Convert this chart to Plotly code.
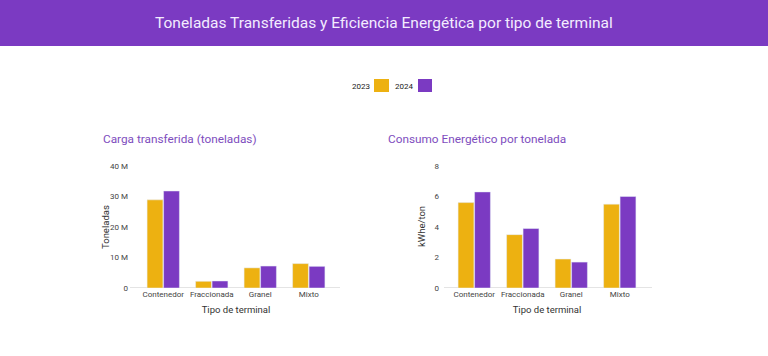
import plotly.graph_objects as go

categories = ["Contenedor", "Fraccionada", "Granel", "Mixto"]
years = ["2023", "2024"]
tons_2023 = [28.9e6, 2.2e6, 6.6e6, 8.0e6]
tons_2024 = [31.8e6, 2.3e6, 7.2e6, 7.1e6]
kwh_2023 = [5.6, 3.5, 1.9, 5.5]
kwh_2024 = [6.3, 3.9, 1.7, 6.0]
tons_ticks = [0, 10e6, 20e6, 30e6, 40e6]
tons_ticktext = ["0", "10 M", "20 M", "30 M", "40 M"]
kwh_ticks = [0, 2, 4, 6, 8]

YELLOW = "#EDB111"
PURPLE = "#7B3AC2"
TITLE_PURPLE = "#7E4DBE"
FONT = "Roboto, Arial, sans-serif"
W, H = 768, 356

def px(x):
    return x / W

def py(y):
    return 1 - y / H

fig = go.Figure()
fig.add_bar(x=categories, y=tons_2023, marker_color=YELLOW, name=years[0], xaxis="x", yaxis="y", showlegend=False)
fig.add_bar(x=categories, y=tons_2024, marker_color=PURPLE, name=years[1], xaxis="x", yaxis="y", showlegend=False)
fig.add_bar(x=categories, y=kwh_2023, marker_color=YELLOW, name=years[0], xaxis="x2", yaxis="y2", showlegend=False)
fig.add_bar(x=categories, y=kwh_2024, marker_color=PURPLE, name=years[1], xaxis="x2", yaxis="y2", showlegend=False)

axis_font = dict(family=FONT, size=8, color="#444444")
title_font = dict(family=FONT, size=9.5, color="#333333")

common_x = dict(showgrid=False, showline=False, tickangle=0, automargin=False,
                tickfont=axis_font, ticks="", title_font=title_font, title_standoff=8)
common_y = dict(showgrid=False, zeroline=False, showline=False, tickfont=axis_font, automargin=False,
                ticks="", ticklabelstandoff=10)

fig.update_layout(
    width=W, height=H, autosize=False,
    margin=dict(l=0, r=0, t=0, b=0, pad=0, autoexpand=False),
    paper_bgcolor="white", plot_bgcolor="white",
    barmode="group", bargap=0.32, bargroupgap=0.04,
    font=dict(family=FONT),
    xaxis=dict(domain=[px(139), px(333)], anchor="y", title_text="Tipo de terminal", **common_x),
    yaxis=dict(domain=[py(288), py(166)], anchor="x", range=[0, 40e6],
               tickvals=tons_ticks, ticktext=tons_ticktext, **common_y),
    xaxis2=dict(domain=[px(450), px(644)], anchor="y2", title_text="Tipo de terminal", **common_x),
    yaxis2=dict(domain=[py(288), py(166)], anchor="x2", range=[0, 8],
                tickvals=kwh_ticks, **common_y),
    shapes=[
        dict(type="rect", xref="paper", yref="paper", x0=0, x1=1, y0=py(46), y1=1,
             fillcolor=PURPLE, line_width=0, layer="below"),
        dict(type="line", xref="paper", yref="y", x0=px(130), x1=px(340), y0=0, y1=0,
             line=dict(color="#c8c8c8", width=1), layer="below"),
        dict(type="line", xref="paper", yref="y2", x0=px(444), x1=px(652), y0=0, y1=0,
             line=dict(color="#c8c8c8", width=1), layer="below"),
        dict(type="rect", xref="paper", yref="paper", x0=px(374), x1=px(389), y0=py(92), y1=py(79),
             fillcolor=YELLOW, line_width=0),
        dict(type="rect", xref="paper", yref="paper", x0=px(418), x1=px(432), y0=py(92), y1=py(79),
             fillcolor=PURPLE, line_width=0),
    ],
    annotations=[
        dict(text="Toneladas Transferidas y Eficiencia Energética por tipo de terminal",
             xref="paper", yref="paper", x=0.5, y=py(23), xanchor="center", yanchor="middle",
             showarrow=False, font=dict(family=FONT, size=15.5, color="#F3ECFF")),
        dict(text=years[0], xref="paper", yref="paper", x=px(372), y=py(86), xanchor="right",
             yanchor="middle", showarrow=False, font=dict(family=FONT, size=8, color="#222222")),
        dict(text=years[1], xref="paper", yref="paper", x=px(415), y=py(86), xanchor="right",
             yanchor="middle", showarrow=False, font=dict(family=FONT, size=8, color="#222222")),
        dict(text="Carga transferida (toneladas)", xref="paper", yref="paper", x=px(101), y=py(139),
             xanchor="left", yanchor="middle", showarrow=False,
             font=dict(family=FONT, size=11.8, color=TITLE_PURPLE)),
        dict(text="Consumo Energético por tonelada", xref="paper", yref="paper", x=px(386), y=py(139),
             xanchor="left", yanchor="middle", showarrow=False,
             font=dict(family=FONT, size=11.8, color=TITLE_PURPLE)),
        dict(text="Toneladas", xref="paper", yref="paper", x=px(106), y=py(227), textangle=-90,
             xanchor="center", yanchor="middle", showarrow=False, font=title_font),
        dict(text="kWhe/ton", xref="paper", yref="paper", x=px(422), y=py(227), textangle=-90,
             xanchor="center", yanchor="middle", showarrow=False, font=title_font),
    ],
)

fig.write_html("out.html", config={"responsive": False, "displayModeBar": False})

with open("out.html", "r", encoding="utf-8") as f:
    html = f.read()
css = ("<style>html,body{margin:0;padding:0;overflow:hidden;height:356px;}"
       "body>div{line-height:0;margin:0;padding:0;}"
       ".plotly-graph-div{display:block;margin:0;}</style>")
html = html.replace("<head>", "<head>" + css, 1)
with open("out.html", "w", encoding="utf-8") as f:
    f.write(html)
